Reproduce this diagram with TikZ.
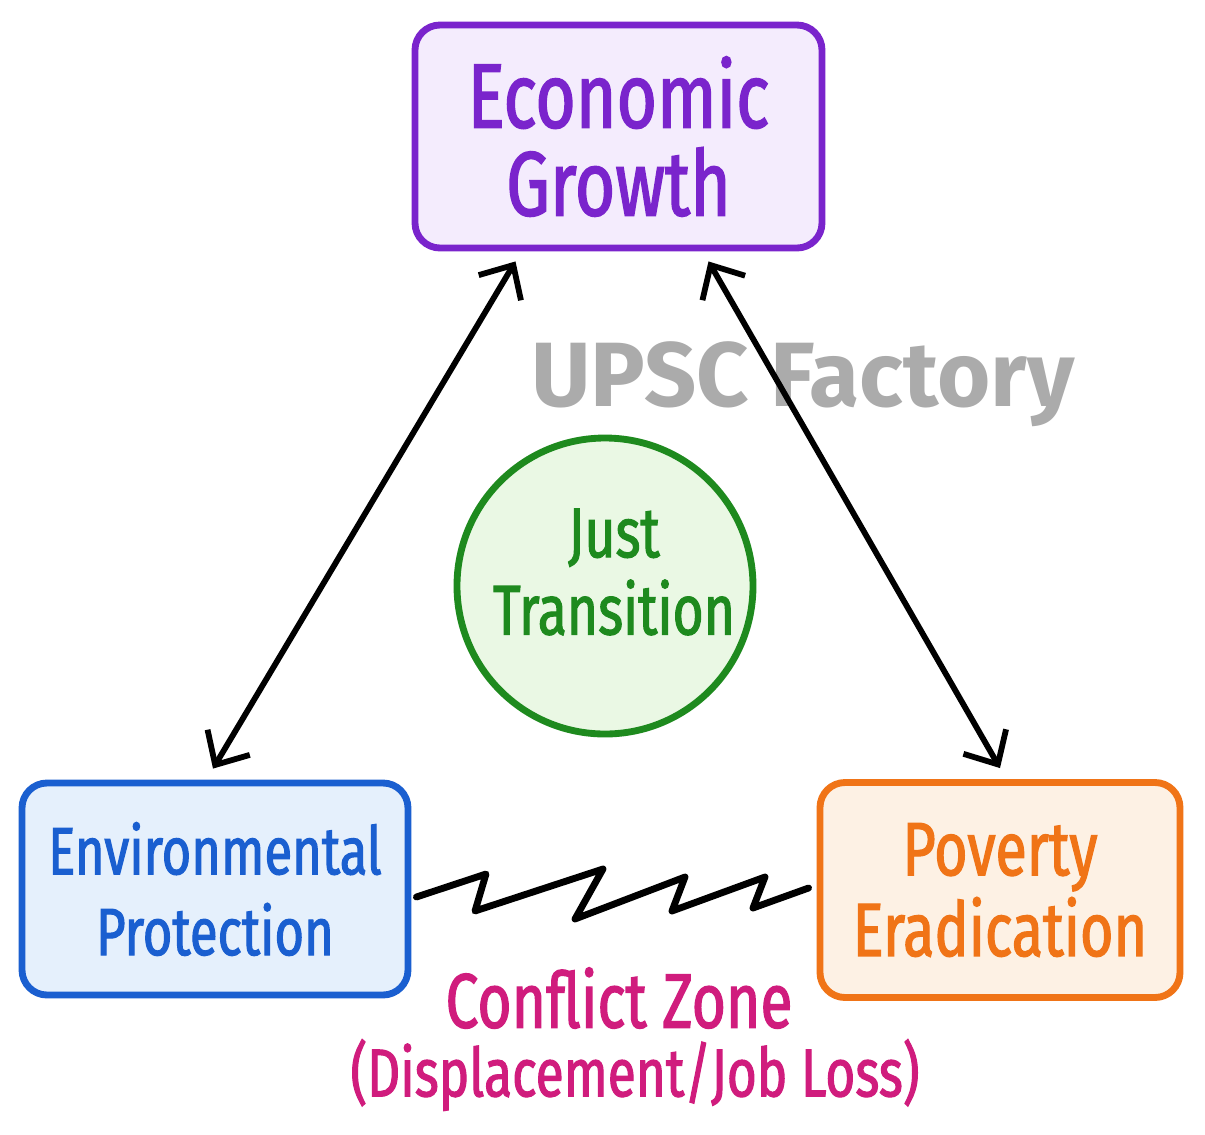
\documentclass[tikz,border=0pt]{standalone}
\usepackage{fontspec}
\setmainfont[FakeStretch=0.76,FakeBold=1.6]{Fira Sans}
\newfontfamily\wmfont{Fira Sans}
\usetikzlibrary{arrows.meta,calc,shapes.geometric}
\definecolor{egc}{HTML}{7A24CC}
\definecolor{egf}{HTML}{F4ECFD}
\definecolor{envc}{HTML}{1A5FD0}
\definecolor{envf}{HTML}{E5F0FC}
\definecolor{povc}{HTML}{F07417}
\definecolor{povf}{HTML}{FDF1E4}
\definecolor{jtc}{HTML}{1E8A1E}
\definecolor{jtf}{HTML}{EAF8E4}
\definecolor{czc}{HTML}{D01C7D}
\definecolor{wmc}{HTML}{ABABAB}
\tikzset{
  boxnode/.style={draw, line width=3.9pt, rounded corners=0.5cm, align=center, inner sep=0pt},
  link/.style={line width=3.3pt, black, line cap=round, {Straight Barb[length=15pt,width=28pt,line width=3.3pt]}-{Straight Barb[length=15pt,width=28pt,line width=3.3pt]}},
  zig/.style={line width=3.9pt, black, line join=round, line cap=round}
}
\begin{document}
\begin{tikzpicture}[x=0.02cm, y=-0.02cm]
\useasboundingbox[fill=white] (0,0) rectangle (1205,1134);
% watermark
\node[wmc, font=\wmfont\bfseries\fontsize{52}{60}\selectfont] (wm) at (803,384) {UPSC Factory};
% boxes
\node[boxnode, draw=egc, fill=egf, text=egc, minimum width=407*0.02cm, minimum height=223*0.02cm,
      font=\fontsize{52}{50}\selectfont] (eg) at (618.5,136.5) {Economic\\Growth};
\node[boxnode, draw=envc, fill=envf, text=envc, minimum width=386*0.02cm, minimum height=212*0.02cm,
      font=\fontsize{38}{46}\selectfont] (env) at (215,889) {Environmental\\Protection};
\node[boxnode, draw=povc, fill=povf, text=povc, minimum width=360*0.02cm, minimum height=215*0.02cm,
      font=\fontsize{43}{46}\selectfont] (pov) at (1000,890) {Poverty\\Eradication};
\node[circle, draw=jtc, fill=jtf, line width=3.9pt, minimum size=296*0.02cm, inner sep=0pt] (jt) at (605,586) {};
\node[text=jtc, align=center, font=\fontsize{40}{44}\selectfont] (jtt) at ($(jt)+(9,-14)$) {Just\\Transition};
% conflict label
\node[text=czc, font=\fontsize{44}{48}\selectfont] (cz1) at (619,998) {Conflict Zone};
\node[text=czc, font=\fontsize{38.5}{44}\selectfont] (cz2) at (635,1075) {(Displacement/Job Loss)};
% arrows
\draw[link] ($(eg.south)+(-103,10)$) -- ($(env.north)+(-2,-11)$);
\draw[link] ($(eg.south)+(90,10)$) -- ($(pov.north)+(0,-11)$);
% zigzag
\draw[zig] ($(env.east)+(5,8)$) -- (486,874) -- (475,911) -- (603,869) -- (575,919) -- (685,877) -- (672,911) -- (765,877) -- (753,908) -- ($(pov.west)+(-8,-2)$);
\end{tikzpicture}
\end{document}
